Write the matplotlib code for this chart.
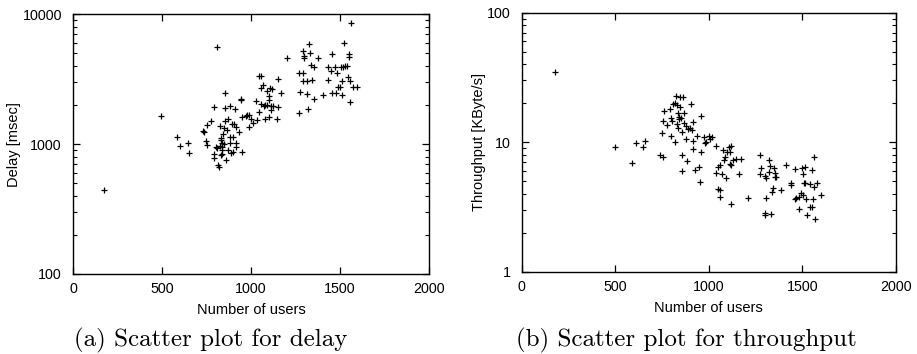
import matplotlib
matplotlib.use("Agg")
import matplotlib.pyplot as plt
from matplotlib.ticker import FixedLocator, LogLocator, NullFormatter, FuncFormatter

# (a) delay vs number of users
delay_users = [172, 496, 584, 604, 644, 651, 810, 733, 739, 752, 775, 748, 756, 795,
               790, 792, 803, 812, 816, 820, 827, 832, 834, 836, 838, 840, 832, 853,
               844, 849, 851, 855, 857, 865, 859, 872, 870, 880, 883, 883, 889, 892,
               898, 902, 907, 911, 917, 915, 917, 932, 943, 947, 950, 952, 973, 978,
               988, 992, 999, 1012, 1031, 1037, 1046, 1046, 1057, 1059, 1068, 1057,
               1074, 1079, 1081, 1089, 1093, 1100, 1100, 1104, 1108, 1111, 1117, 1111,
               1126, 1145, 1153, 1153, 1168, 1205, 1268, 1268, 1277, 1292, 1294, 1296,
               1294, 1298, 1313, 1318, 1320, 1329, 1335, 1339, 1341, 1354, 1354, 1380,
               1406, 1434, 1434, 1451, 1455, 1456, 1475, 1479, 1484, 1500, 1492, 1508,
               1514, 1519, 1512, 1523, 1531, 1538, 1544, 1549, 1553, 1557, 1557, 1562,
               1575, 1594, 840, 827]
delay_ms = [443, 1652, 1137, 966, 1023, 847, 5609, 1259, 1245, 1393, 1493, 1062, 977,
            1936, 837, 785, 953, 931, 693, 662, 1374, 1074, 1107, 953, 837, 899, 822,
            1881, 1186, 1000, 1321, 2455, 1511, 1282, 753, 1549, 899, 1972, 1137, 1023,
            847, 1417, 1137, 867, 1424, 1849, 1360, 1012, 942, 1245, 2179, 2209, 862,
            1603, 1652, 1670, 1343, 1670, 1556, 1442, 2141, 1531, 1774, 3354, 3354,
            2711, 2843, 2017, 1959, 1549, 2008, 2542, 1996, 2179, 2339, 1622, 2680,
            1828, 2634, 1959, 1959, 1573, 3162, 1936, 2455, 4615, 1722, 3499, 2531,
            5193, 3541, 4560, 3072, 4753, 2412, 3053, 1849, 5945, 5043, 4029, 3106,
            3936, 2219, 4615, 2395, 3936, 3106, 3645, 4977, 2482, 3936, 2482, 3499,
            2729, 2729, 3936, 3053, 3936, 2395, 6049, 3981, 4006, 3296, 4700, 4897,
            3053, 2094, 8580, 2761, 2761, 1023, 960]

# (b) throughput vs number of users
tput_users = [175, 500, 589, 610, 646, 657, 737, 755, 748, 755, 762, 778, 794, 799,
              799, 805, 808, 817, 821, 826, 832, 832, 835, 835, 839, 842, 846, 848,
              853, 856, 856, 858, 864, 867, 867, 876, 880, 885, 888, 901, 906, 908,
              914, 916, 917, 927, 938, 945, 953, 956, 958, 974, 978, 987, 999, 1006,
              1017, 1040, 1040, 1049, 1051, 1058, 1061, 1061, 1070, 1077, 1079, 1084,
              1093, 1099, 1106, 1111, 1113, 1117, 1117, 1120, 1131, 1147, 1160, 1170,
              1210, 1272, 1272, 1281, 1299, 1299, 1302, 1304, 1308, 1320, 1322, 1325,
              1334, 1338, 1345, 1349, 1352, 1356, 1361, 1384, 1415, 1438, 1441, 1459,
              1459, 1468, 1481, 1484, 1491, 1499, 1504, 1504, 1509, 1513, 1516, 1522,
              1527, 1540, 1540, 1549, 1549, 1556, 1563, 1563, 1566, 1579, 1599]
tput_kbs = [35.0, 9.23, 6.87, 9.91, 9.23, 10.2, 8.05, 7.64, 11.9, 14.7, 17.4, 13.6,
            18.2, 15.3, 11.2, 14.7, 19.9, 10.1, 20.2, 22.9, 19.4, 13.8, 16.7, 12.8,
            15.1, 15.7, 22.2, 18.6, 15.3, 12.1, 6.03, 8.05, 22.2, 14.2, 16.7, 13.3,
            10.7, 7.16, 12.6, 12.9, 19.9, 12.4, 8.86, 10.3, 14.4, 6.09, 11.2, 6.47,
            4.96, 15.9, 8.45, 11.0, 9.8, 10.1, 11.2, 10.7, 11.0, 9.4, 5.81, 6.47, 4.40,
            4.28, 6.67, 3.79, 5.68, 8.71, 7.36, 7.73, 5.26, 8.36, 9.23, 6.77, 8.45, 9.4,
            3.37, 6.74, 7.36, 7.41, 5.74, 7.41, 3.73, 7.96, 5.65, 6.28, 5.48, 2.86, 2.74,
            3.73, 5.26, 5.92, 7.28, 6.59, 2.82, 4.15, 4.45, 6.28, 5.42, 5.81, 5.42, 4.32,
            6.74, 4.86, 4.67, 6.17, 3.64, 3.73, 3.03, 3.79, 4.03, 6.28, 5.68, 3.91, 4.81,
            6.47, 4.86, 3.62, 2.74, 4.75, 3.18, 3.18, 6.09, 3.68, 4.48, 7.64, 2.54, 4.81,
            3.95]

x_ticks = [0, 500, 1000, 1500, 2000]
sans = "Liberation Sans"


def style_axes(ax, ylim, ylabel):
    ax.set_xlim(0, 2000)
    ax.set_yscale("log")
    ax.set_ylim(*ylim)
    ax.xaxis.set_major_locator(FixedLocator(x_ticks))
    ax.yaxis.set_major_locator(LogLocator(base=10))
    ax.yaxis.set_minor_locator(LogLocator(base=10, subs=range(2, 10)))
    ax.yaxis.set_minor_formatter(NullFormatter())
    ax.yaxis.set_major_formatter(FuncFormatter(lambda v, p: f"{v:g}"))
    ax.tick_params(which="both", direction="in", top=True, right=True,
                   labelsize=10.3)
    ax.tick_params(axis="y", pad=8)
    ax.tick_params(axis="x", pad=6)
    ax.tick_params(which="major", length=5, width=0.9)
    ax.tick_params(which="minor", length=3, width=0.8)
    for lab in ax.get_xticklabels() + ax.get_yticklabels():
        lab.set_fontfamily(sans)
    for sp in ax.spines.values():
        sp.set_linewidth(1.0)
    ax.set_xlabel("Number of users", fontsize=10.5, fontfamily=sans, labelpad=5)
    ax.set_ylabel(ylabel, fontsize=10.5, fontfamily=sans, labelpad=1)


fig = plt.figure(figsize=(9.17, 3.54), dpi=100)
ax1 = fig.add_axes([0.0796, 0.226, 0.388, 0.734])
ax2 = fig.add_axes([0.569, 0.232, 0.408, 0.732])

ax1.plot(delay_users, delay_ms, "+", color="black", markersize=4.5, mew=0.9)
style_axes(ax1, (100, 10000), "Delay [msec]")

ax2.plot(tput_users, tput_kbs, "+", color="black", markersize=4.5, mew=0.9)
style_axes(ax2, (1, 100), "Throughput [KByte/s]")

fig.text(211 / 917, 1 - 340 / 354, "(a) Scatter plot for delay",
         ha="center", va="center", fontsize=18, fontfamily="cmr10")
fig.text(686 / 917, 1 - 340 / 354, "(b) Scatter plot for throughput",
         ha="center", va="center", fontsize=18, fontfamily="cmr10")

fig.savefig("out.png", dpi=100)
